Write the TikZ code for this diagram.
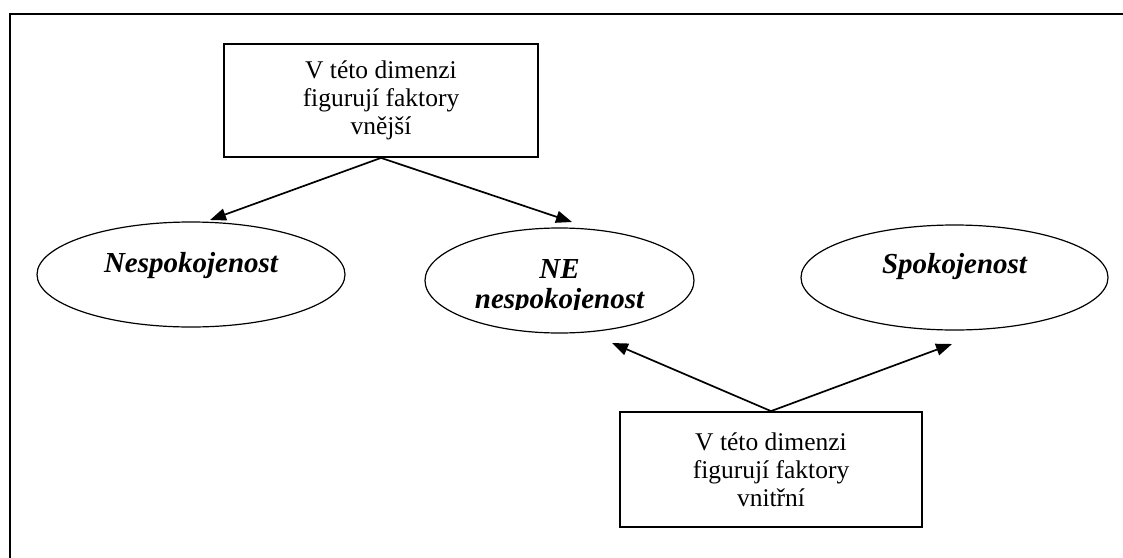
\documentclass[tikz,border=0pt]{standalone}
\usepackage{fontspec}
\setmainfont{Liberation Serif}
\usetikzlibrary{arrows.meta,shapes.geometric,calc}
\tikzset{
  boxtext/.style={draw, line width=1.8pt, rectangle, inner sep=0pt, align=center,
    font=\fontsize{25.5}{28}\selectfont},
  oval/.style={draw, line width=1.2pt, ellipse, inner sep=0pt},
  ovaltext/.style={anchor=base, inner sep=0pt, font=\fontsize{29}{31}\selectfont\bfseries\itshape},
  conn/.style={line width=1.7pt, -{Triangle[length=16pt,width=12pt]}},
  frame/.style={line width=2pt}
}
\begin{document}
\begin{tikzpicture}[x=1pt,y=-1pt]
\clip (0,0) rectangle (1123,557);
\useasboundingbox (0,0) rectangle (1123,557);
\draw[frame] (10,13.5) rectangle (1145,575);

\node[boxtext, minimum width=314pt, minimum height=113pt] (top) at (381,100.5)
  {V této dimenzi\\figurují faktory\\vnější};
\node[boxtext, minimum width=302pt, minimum height=115pt] (bot) at (771,469.5)
  {V této dimenzi\\figurují faktory\\vnitřní};

\node[oval, minimum width=308pt, minimum height=105pt] (e1) at (191,274.5) {};
\node[oval, minimum width=269pt, minimum height=105pt] (e2) at (559.5,280.5) {};
\node[oval, minimum width=307pt, minimum height=105pt] (e3) at (954.5,277.5) {};

\node[ovaltext] (l1) at (191,272) {Nespokojenost};
\node[ovaltext] (l2a) at (559.5,278) {NE};
\begin{scope}
  \clip (425,285) rectangle (700,309.5);
  \node[ovaltext] (l2b) at (559.5,308) {nespokojenost};
\end{scope}
\node[ovaltext] (l3) at (954.5,273) {Spokojenost};

\coordinate (t1) at ($(e1.center)+(19,-54.5)$);
\coordinate (t2) at ($(e2.center)+(12.5,-58.5)$);
\coordinate (t3) at ($(e2.center)+(52.5,62.5)$);
\coordinate (t4) at ($(e3.center)+(-2.5,66.5)$);

\draw[conn] (top.south) -- (t1);
\draw[conn] (top.south) -- (t2);
\draw[conn] (bot.north) -- (t3);
\draw[conn] (bot.north) -- (t4);
\end{tikzpicture}
\end{document}
